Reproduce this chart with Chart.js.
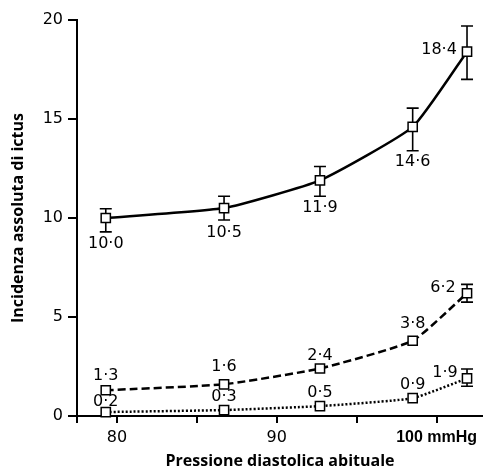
<!DOCTYPE html>
<html><head><meta charset="utf-8">
<script src="https://cdn.jsdelivr.net/npm/chart.js@4"></script>
<style>html,body{margin:0;padding:0;background:#fff}#w{width:483px;height:469px}</style>
</head><body><div id="w"><canvas id="c"></canvas></div>
<script>
// ---- data ----
const pressure = [79.3, 86.7, 92.7, 98.5, 101.9];      // mmHg (x)
const seriesTotal  = [10.0, 10.5, 11.9, 14.6, 18.4];
const seriesMid    = [1.3, 1.6, 2.4, 3.8, 6.2];
const seriesLow    = [0.2, 0.3, 0.5, 0.9, 1.9];
const totalUpper = [10.47, 11.1, 12.6, 15.55, 19.7];
const totalLower = [9.3, 9.9, 11.1, 13.4, 17.0];
const midUpper   = [null, null, null, null, 6.65];
const midLower   = [null, null, null, null, 5.75];
const lowUpper   = [null, null, null, null, 2.37];
const lowLower   = [null, null, null, null, 1.5];
const xTickValues = [77.5, 80, 85, 90, 95, 100];
const xTickLabels = {80: '80', 90: '90', 100: '100 mmHg'};
const yTickValues = [0, 5, 10, 15, 20];
const xTitle = 'Pressione diastolica abituale';
const yTitle = 'Incidenza assoluta di ictus';

// ---- label placement (style) ----
const labelPlace = [
  [[0,26],[0,25],[0,27],[0,35],[-28,-2]],
  [[0,-14],[0,-17],[0,-13],[0,-17],[-24,-5]],
  [[0,-10],[0,-13],[0,-13],[0,-13],[-22,-6]]
];
const fmt = v => v.toFixed(1).replace('.', '\u00b7');

const toXY = arr => arr.map((v,i) => ({x: pressure[i], y: v}));
const errors = [[totalUpper,totalLower],[midUpper,midLower],[lowUpper,lowLower]];

const errPlugin = {
  id: 'err',
  beforeDatasetsDraw(chart) {
    const ctx = chart.ctx, xs = chart.scales.x, ys = chart.scales.y;
    ctx.save();
    ctx.strokeStyle = '#000'; ctx.lineWidth = 1.6;
    errors.forEach(([up, lo]) => {
      up.forEach((u, i) => {
        if (u == null) return;
        const px = xs.getPixelForValue(pressure[i]);
        const pu = ys.getPixelForValue(u), pl = ys.getPixelForValue(lo[i]);
        ctx.beginPath();
        ctx.moveTo(px, pu); ctx.lineTo(px, pl);
        ctx.moveTo(px-6, pu); ctx.lineTo(px+6, pu);
        ctx.moveTo(px-6, pl); ctx.lineTo(px+6, pl);
        ctx.stroke();
      });
    });
    ctx.restore();
  },
  afterDatasetsDraw(chart) {
    const ctx = chart.ctx, xs = chart.scales.x, ys = chart.scales.y;
    ctx.save();
    ctx.fillStyle = '#000';
    ctx.font = '16px "DejaVu Sans"';
    ctx.textAlign = 'center'; ctx.textBaseline = 'middle';
    [seriesTotal, seriesMid, seriesLow].forEach((s, k) => {
      s.forEach((v, i) => {
        const px = xs.getPixelForValue(pressure[i]), py = ys.getPixelForValue(v);
        const [dx, dy] = labelPlace[k][i];
        ctx.fillText(fmt(v), px + dx, py + dy);
      });
    });
    ctx.restore();
  }
};

const pointStyle = {pointStyle: 'rect', pointRadius: 6.5, pointBackgroundColor: '#fff',
  pointBorderColor: '#000', pointBorderWidth: 1.5, borderColor: '#000', borderWidth: 2.5,
  tension: 0.15, fill: false, clip: false, pointHoverRadius: 6.5};

new Chart(document.getElementById('c'), {
  type: 'line',
  data: {
    datasets: [
      Object.assign({label: 'tot', data: toXY(seriesTotal)}, pointStyle),
      Object.assign({label: 'mid', data: toXY(seriesMid), borderDash: [8, 4]}, pointStyle),
      Object.assign({label: 'low', data: toXY(seriesLow), borderDash: [2, 2]}, pointStyle)
    ]
  },
  options: {
    responsive: true, maintainAspectRatio: false, animation: false,
    events: [],
    layout: {autoPadding: false, padding: {left: 10, right: 0, top: 20, bottom: 0}},
    plugins: {legend: {display: false}, tooltip: {enabled: false}},
    scales: {
      x: {
        type: 'linear', min: 77.5, max: 102.9,
        afterBuildTicks: s => { s.ticks = xTickValues.map(v => ({value: v})); },
        afterFit: s => { s.height = 53; s.paddingLeft = 0; s.paddingRight = 0; },
        grid: {drawOnChartArea: false, drawTicks: true, tickLength: 7, color: '#000', lineWidth: 2},
        border: {display: true, color: '#000', width: 2},
        ticks: {
          color: '#000', padding: 5, maxRotation: 0, autoSkip: false,
          callback: v => xTickLabels[v] || '',
          font: c => (c.tick && c.tick.value === 100)
            ? {family: '"Liberation Sans"', size: 16, weight: 'bold'}
            : {family: '"DejaVu Sans"', size: 16}
        },
        title: {display: true, text: xTitle, color: '#000', padding: 0,
          font: {family: '"Open Sans"', size: 16, weight: 'bold', lineHeight: 1}}
      },
      y: {
        type: 'linear', min: 0, max: 20,
        afterBuildTicks: s => { s.ticks = yTickValues.map(v => ({value: v})); },
        afterFit: s => { s.width = 67; },
        grid: {drawOnChartArea: false, drawTicks: true, tickLength: 9, color: '#000', lineWidth: 2},
        border: {display: true, color: '#000', width: 2},
        ticks: {color: '#000', padding: 5, font: {family: '"DejaVu Sans"', size: 16}},
        title: {display: true, text: yTitle, color: '#000', padding: 0,
          font: {family: '"Open Sans"', size: 16, weight: 'bold', lineHeight: 1}}
      }
    }
  },
  plugins: [errPlugin]
});
</script>
</body></html>
